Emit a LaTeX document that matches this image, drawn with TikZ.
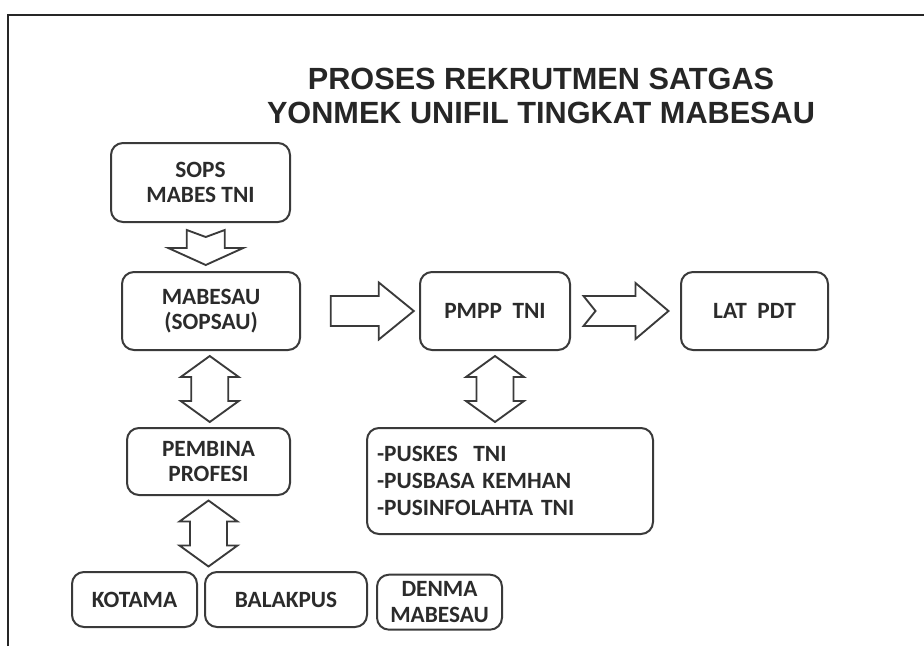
\documentclass[tikz,border=0pt]{standalone}
\usepackage{fontspec}
\setmainfont{Carlito}
\newfontfamily\titlefont{Liberation Sans}
\usepackage{tikz}
\usetikzlibrary{positioning, calc}
\definecolor{linecol}{HTML}{3A3A3A}
\definecolor{textcol}{HTML}{2B2B2B}
\tikzset{
box/.style={draw=linecol, line width=1.5pt, rounded corners=9pt, align=center, text=textcol, inner sep=0, font=\bfseries\fontsize{17.5}{19}\selectfont}, size/.style 2 args={minimum width=#1*0.75pt, minimum height=#2*0.75pt}, blockarrow/.style={draw=linecol, line width=1.4pt, fill=white, line join=miter},
updownarrow/.pic={\draw [blockarrow] (0,-33) -- (29,-12) -- (18.5,-12) -- (18.5,12) -- (29,12) -- (0,33) -- (-29,12) -- (-18.5,12) -- (-18.5,-12) -- (-29,-12) -- cycle;},
rightarrow/.pic={\draw [blockarrow] (-41,-15) -- (7,-15) -- (7,-28.5) -- (42,0) -- (7,28.5) -- (7,15) -- (-41,15) -- cycle;},
notchright/.pic={\draw [blockarrow] (-42,-15) -- (10,-15) -- (10,-28) -- (43,0) -- (10,28) -- (10,15) -- (-42,15) -- (-30,0) -- cycle;},
notchdown/.pic={\draw [blockarrow] (-19,-17) -- (0,-10) -- (19,-17) -- (19,1) -- (37.5,1) -- (0,18) -- (-37.5,1) -- (-19,1) -- cycle;}}
\begin{document}
\begin{tikzpicture}[x=0.75pt, y=-0.75pt]
\useasboundingbox (0,0) rectangle (924,646);
\draw [line width=2.2pt, black!85] (8,646) -- (8,15) -- (924,15);
\node [text=black!85, align=center, font=\titlefont\bfseries\fontsize{23}{25}\selectfont] (title) at (541,96) {PROSES REKRUTMEN SATGAS\\YONMEK UNIFIL TINGKAT MABESAU};

\node [box, size={179}{79}] (sops) at (200.5,182.5) {SOPS\\MABES TNI};
\node [box, size={178}{78}] (mabesau) at (211,311) {MABESAU\\(SOPSAU)};
\node [box, size={150}{78}] (pmpp) at (495,311) {PMPP~~TNI};
\node [box, size={147}{78}] (latpdt) at (754.5,311) {LAT~~PDT};
\node [box, size={163}{67}] (pembina) at (208.5,461.5) {PEMBINA\\PROFESI};
\node [box, size={286}{106}, align=left, text width=266*0.75pt, inner xsep=7.5pt, font=\bfseries\fontsize{17.5}{20}\selectfont] (list) at (510,481) {-PUSKES~~TNI\\-PUSBASA KEMHAN\\-PUSINFOLAHTA TNI};
\node [box, size={125}{55}] (kotama) at (134.5,599.5) {KOTAMA};
\node [box, size={162}{55}, right=4.5pt of kotama] (balakpus) {BALAKPUS};
\node [box, size={125}{55}, right=6pt of balakpus, yshift=-2pt, font=\bfseries\fontsize{17.5}{20}\selectfont] (denma) {DENMA\\MABESAU};

% block arrows
\pic at ($(sops.south)!0.5!(mabesau.north)$) {notchdown};
\pic at ($(mabesau.east)!0.6!(pmpp.west)$) {rightarrow};
\pic at ($(pmpp.east)!0.5!(latpdt.west)$) {notchright};
\pic at ($(mabesau.south)!0.5!(pembina.north)$) {updownarrow};
\pic at ($(pembina.south)!0.5!(pembina.south |- balakpus.north)$) {updownarrow};
\pic at ($(pmpp.south)!0.5!(pmpp.south |- list.north)$) {updownarrow};
\end{tikzpicture}
\end{document}
